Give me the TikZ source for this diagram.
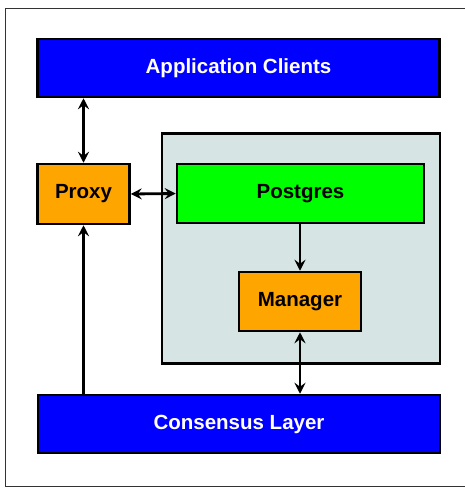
\documentclass[tikz,border=0pt]{standalone}
\usepackage{fontspec}
\setmainfont{Liberation Sans}
\usepackage{tikz}
\usetikzlibrary{arrows.meta}
\definecolor{layerblue}{RGB}{0,0,255}
\definecolor{procorange}{RGB}{255,165,0}
\definecolor{pggreen}{RGB}{0,255,0}
\definecolor{hostgray}{RGB}{214,228,228}
\begin{document}
\begin{tikzpicture}[x=1pt, y=-1pt,
	box/.style={draw, line width=2.5pt, rectangle, inner sep=0pt, font=\fontsize{20.5}{24}\selectfont\bfseries},
	layer/.style={box, fill=layerblue, text=white, minimum width=402pt, minimum height=58pt},
	>={Stealth[length=11pt,width=11pt,inset=4pt]},
	conn/.style={line width=2.8pt, ->},
	biconn/.style={line width=2.8pt, <->},
	]
	\useasboundingbox (0,0) rectangle (465,488);
	\draw[line width=1.8pt, black!80] (5.5,8.5) rectangle (472,486.5);
	\node[box, fill=hostgray, minimum width=278pt, minimum height=230pt] (host) at (301,248.5) {};
	\node[layer] (apps) at (238.5,68) {Application Clients};
	\node[layer] (consensus) at (239,424) {Consensus Layer};
	\node[box, fill=procorange, minimum width=92pt, minimum height=60pt] (proxy) at (83.5,194) {Proxy};
	\node[box, fill=pggreen, minimum width=247pt, minimum height=59pt] (postgres) at (300.5,193.5) {Postgres};
	\node[box, fill=procorange, minimum width=122pt, minimum height=59pt] (manager) at (300,301.5) {Manager};
	\draw[biconn] (proxy.north) -- (proxy.north |- apps.south);
	\draw[biconn] (proxy.east) -- (postgres.west);
	\draw[conn] (manager.north |- postgres.south) -- (manager.north);
	\draw[biconn] (manager.south) -- (manager.south |- consensus.north);
	\draw[conn] (proxy.south |- consensus.north) -- (proxy.south);
\end{tikzpicture}
\end{document}
